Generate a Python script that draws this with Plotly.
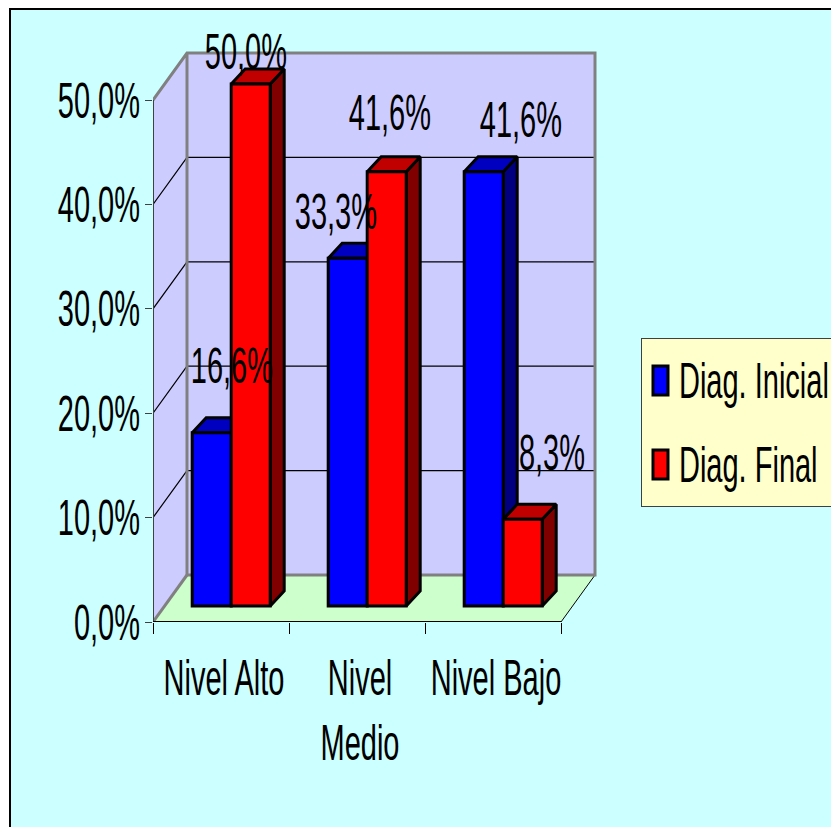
import plotly.graph_objects as go

# Chart values
categories = ["Nivel Alto", "Nivel<br>Medio", "Nivel Bajo"]
series_names = ["Diag. Inicial", "Diag. Final"]
diag_inicial = [16.6, 33.3, 41.6]
diag_final = [50.0, 41.6, 8.3]
y_ticks = [0, 10, 20, 30, 40, 50]

# Page geometry, in pixels
W, H = 831, 827
LEFT, RIGHT, TOP, BOTTOM = 153, 561, 100, 622
PLOT_RIGHT, PLOT_TOP = 625, 30
PX_PER_CAT = (RIGHT - LEFT) / 3
PX_PER_PCT = (BOTTOM - TOP) / 50

# Oblique projection offsets, converted to axis units
WALL_DX, WALL_DY = 34 / PX_PER_CAT, 47 / PX_PER_PCT
BAR_DX, BAR_DY = 14 / PX_PER_CAT, 15 / PX_PER_PCT
BAR_BASE = 16 / PX_PER_PCT
BAR_W = 39 / PX_PER_CAT
BAR_SHIFT = 0.075
X0, X1 = -0.5, 2.5

FONT = "Liberation Sans"
FS = 50
BLACK = "#000000"
GREY = "#808080"
EDGE = 3


def paper_x(px):
    return (px - LEFT) / (PLOT_RIGHT - LEFT)


def paper_y(py):
    return (BOTTOM - py) / (BOTTOM - PLOT_TOP)


fig = go.Figure()


def polygon(xs, ys, fill, line=None, width=0, z=0):
    fig.add_trace(go.Scatter(
        x=xs + xs[:1], y=ys + ys[:1], mode="lines", fill="toself", fillcolor=fill,
        line=dict(color=line or fill, width=width), hoverinfo="skip",
        showlegend=False, zorder=z,
    ))


def path(xs, ys, color, width, z=0):
    fig.add_trace(go.Scatter(
        x=xs, y=ys, mode="lines", line=dict(color=color, width=width), hoverinfo="skip",
        showlegend=False, zorder=z,
    ))


# Side wall, back wall and floor
polygon([X0, X0, X0 + WALL_DX, X0 + WALL_DX], [0, 50, 50 + WALL_DY, WALL_DY], "#CCCCFF")
polygon([X0 + WALL_DX, X1 + WALL_DX, X1 + WALL_DX, X0 + WALL_DX],
        [WALL_DY, WALL_DY, 50 + WALL_DY, 50 + WALL_DY], "#CCCCFF")
polygon([X0, X1, X1 + WALL_DX, X0 + WALL_DX], [0, 0, WALL_DY, WALL_DY], "#CCFFCC")

# Gridlines wrapping the side and back walls
grid_x, grid_y = [], []
for v in y_ticks[1:-1]:
    grid_x += [X0, X0 + WALL_DX, X1 + WALL_DX, None]
    grid_y += [v, v + WALL_DY, v + WALL_DY, None]
path(grid_x, grid_y, BLACK, 1.2)
path([X1, X1 + WALL_DX], [0, WALL_DY], BLACK, 1)

# Grey frame of the back wall
path([X0, X0 + WALL_DX, X1 + WALL_DX, X1 + WALL_DX, X0 + WALL_DX, X0 + WALL_DX],
     [50, 50 + WALL_DY, 50 + WALL_DY, WALL_DY, WALL_DY, 50 + WALL_DY], GREY, 3)
path([X0, X0 + WALL_DX], [0, WALL_DY], GREY, 3)

# Axis lines stop at the chart's front plane, so they are drawn as lines of their own
path([X0, X0], [0, 50], "#404040", 2)
path([X0, X1], [0, 0], BLACK, 2)


def bar_series(name, values, offset, front, side, top, z):
    # Side and top faces go underneath the front face of the same series
    for i, v in enumerate(values):
        left = i + offset
        right = left + BAR_W
        crest = BAR_BASE + v
        polygon([right, right, right + BAR_DX, right + BAR_DX],
                [BAR_BASE, crest, crest + BAR_DY, BAR_BASE + BAR_DY], side, BLACK, EDGE, z)
        polygon([left, right, right + BAR_DX, left + BAR_DX],
                [crest, crest, crest + BAR_DY, crest + BAR_DY], top, BLACK, EDGE, z)
    fig.add_trace(go.Bar(
        name=name, x=list(range(len(values))), y=values, base=BAR_BASE,
        width=BAR_W, offset=offset, marker=dict(color=front, line=dict(color=BLACK, width=EDGE)),
        zorder=z + 1, legendgroup=name, hoverinfo="skip",
    ))


bar_series(series_names[0], diag_inicial, BAR_SHIFT - BAR_W, "#0000FF", "#000080", "#0000C0", 1)
bar_series(series_names[1], diag_final, BAR_SHIFT, "#FF0000", "#800000", "#C00000", 3)

# Value labels, placed by hand around each bar's top
label_points = [
    (0, BAR_SHIFT - BAR_W / 2, diag_inicial[0], 20, 67),
    (1, BAR_SHIFT - BAR_W / 2, diag_inicial[1], -12, 46),
    (2, BAR_SHIFT - BAR_W / 2, diag_inicial[2], 37, 52),
    (0, BAR_SHIFT + BAR_W / 2, diag_final[0], -5, 32),
    (1, BAR_SHIFT + BAR_W / 2, diag_final[1], 3, 59),
    (2, BAR_SHIFT + BAR_W / 2, diag_final[2], 29, 66),
]
annotations = [
    dict(x=i + dx, y=BAR_BASE + v, xref="x", yref="y", text=f"{v:.1f}%".replace(".", ","),
         showarrow=False, xshift=sx, yshift=sy, font=dict(family=FONT, size=FS, color=BLACK))
    for i, dx, v, sx, sy in label_points
]

fig.update_layout(
    width=W, height=H, autosize=False,
    margin=dict(l=LEFT, r=W - PLOT_RIGHT, t=PLOT_TOP, b=H - BOTTOM, pad=0, autoexpand=False),
    paper_bgcolor="#FFFFFF", plot_bgcolor="rgba(0,0,0,0)",
    barmode="overlay", separators=",.", font=dict(family=FONT, size=FS, color=BLACK),
    annotations=annotations,
    shapes=[dict(type="rect", xref="paper", yref="paper", layer="below",
                 x0=paper_x(10), x1=paper_x(W + 20), y0=paper_y(H + 20), y1=paper_y(9),
                 fillcolor="#CCFFFF", line=dict(color=BLACK, width=2))],
    xaxis=dict(
        range=[X0, X0 + (PLOT_RIGHT - LEFT) / PX_PER_CAT],
        tickmode="array", tickvals=list(range(len(categories))), ticktext=categories, tickangle=0,
        ticks="", ticklabelstandoff=22, ticklabelshift=3, showgrid=False, zeroline=False, showline=False,
        minor=dict(tickmode="array", tickvals=[-0.5, 0.5, 1.5, 2.5], ticks="outside",
                   ticklen=11, tickcolor=BLACK, tickwidth=1, showgrid=False),
        tickfont=dict(family=FONT, size=FS, color=BLACK), fixedrange=True,
    ),
    yaxis=dict(
        range=[0, (BOTTOM - PLOT_TOP) / PX_PER_PCT],
        tickmode="linear", tick0=0, dtick=10, tickformat=".1f", ticksuffix="%",
        ticks="outside", ticklen=7, tickcolor="#404040", tickwidth=1, ticklabelstandoff=-5,
        showgrid=False, zeroline=False, showline=False,
        tickfont=dict(family=FONT, size=FS, color=BLACK), fixedrange=True,
    ),
    legend=dict(
        x=paper_x(641), y=paper_y(338), xanchor="left", yanchor="top",
        bgcolor="#FFFFCC", bordercolor="#404040", borderwidth=1,
        font=dict(family=FONT, size=FS, color=BLACK),
        tracegroupgap=16, entrywidthmode="pixels", entrywidth=150,
        itemclick=False, itemdoubleclick=False,
    ),
)

# Arial-style glyphs here are narrow: squeeze every text horizontally about its anchor,
# make the legend swatches tall like the bars they stand for, and give the legend box
# its full height.
post_script = """
var gd = document.getElementById('{plot_id}');
gd.querySelectorAll('text').forEach(function (t) {
  var x = parseFloat(t.getAttribute('x')) || 0;
  var old = t.getAttribute('transform') || '';
  var nudge = t.classList.contains('legendtext') ? -3 : 0;
  t.setAttribute('transform', old + ' translate(' + (x + nudge) + ' 0) scale(0.58 1) translate(' + (-x) + ' 0)');
});
gd.querySelectorAll('.legend .legendpoints path').forEach(function (p) {
  p.setAttribute('d', 'M6,17H-9V-12H6Z');
  p.style.strokeWidth = '3px';
});
gd.querySelectorAll('.legend rect.bg').forEach(function (r) {
  r.setAttribute('height', '168');
});
"""

fig.write_html("out.html", post_script=post_script, config={"displayModeBar": False})
